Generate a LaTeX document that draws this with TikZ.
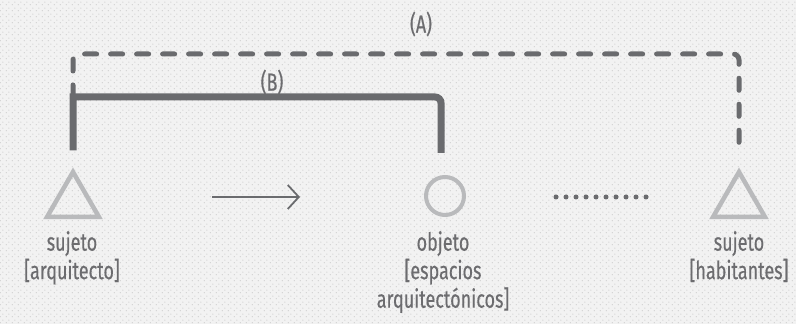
\documentclass[tikz,border=0pt]{standalone}
\usepackage{fontspec}
\setmainfont[FakeStretch=0.72,FakeBold=0.4]{Fira Sans}
\usetikzlibrary{arrows.meta,shapes.geometric,patterns.meta}
\definecolor{bgc}{HTML}{F2F2F2}
\definecolor{dotc}{HTML}{D2D2D2}
\definecolor{linec}{HTML}{6A6B6E}
\definecolor{shapec}{HTML}{B9BABC}
\definecolor{textc}{HTML}{6C6C6F}
\tikzdeclarepattern{name=bgdots, type=uncolored,
  bounding box={(0,0) and (6pt,6pt)}, tile size={(6pt,6pt)},
  code={\fill (1.5pt,1.5pt) circle (0.8pt); \fill (4.5pt,4.5pt) circle (0.8pt);}}
\tikzset{
  tri/.style={draw=shapec, line width=4.5pt, regular polygon, regular polygon sides=3, minimum size=60pt, inner sep=0pt},
  circ/.style={draw=shapec, line width=4pt, circle, minimum size=38pt, inner sep=0pt},
  solidline/.style={draw=linec, line width=7pt, line cap=butt},
  dashline/.style={draw=linec, line width=5pt, line cap=round, dash pattern=on 12pt off 14pt, rounded corners=6pt},
  dotline/.style={draw=linec, line width=5pt, line cap=round, dash pattern=on 0pt off 10pt},
  arr/.style={draw=linec, line width=1.8pt, -{Straight Barb[length=11pt,width=24pt,line width=1.8pt]}},
  lbl/.style={text=textc, font=\fontsize{25}{28.5}\selectfont, align=center, inner sep=0pt},
}
\begin{document}
\begin{tikzpicture}[x=1pt,y=1pt]
\fill[bgc] (0,0) rectangle (796,324);
\fill[pattern=bgdots, pattern color=dotc] (0,0) rectangle (796,324);
\useasboundingbox (0,0) rectangle (796,324);
\node[tri] (t1) at (73,122) {};
\node[circ] (o) at (445,128) {};
\node[tri] (t2) at (739,122) {};
% labels
\node[lbl, anchor=north] (l1) at (72,93) {sujeto\\{[}arquitecto{]}};
\node[lbl, anchor=north] (l2) at (443,93) {objeto\\{[}espacios\\arquitectónicos{]}};
\node[lbl, anchor=north] (l3) at (739,93) {sujeto\\{[}habitantes{]}};
% connectors
\coordinate (sb1) at ([yshift=17pt]t1.north);
\coordinate (sc1) at (73,227);
\coordinate (sc2) at (441,227);
\coordinate (sb2) at ([xshift=-4pt,yshift=22pt]o.north);
\draw[dashline] (sc1) -- (73,270) -- (739,270) -- ([yshift=20pt]t2.north);
\draw[solidline] (sb1) -- (sc1) [rounded corners=6pt] -- (sc2) -- (sb2);
\coordinate (a1) at (212,127);
\coordinate (a2) at (300,127);
\draw[arr] (a1) -- (a2);
\coordinate (d1) at (556,127);
\coordinate (d2) at (647,127);
\draw[dotline] (d1) -- (d2);
\node[lbl] (A) at (421,300) {(A)};
\node[lbl] (B) at (272,242) {(B)};
\end{tikzpicture}
\end{document}
